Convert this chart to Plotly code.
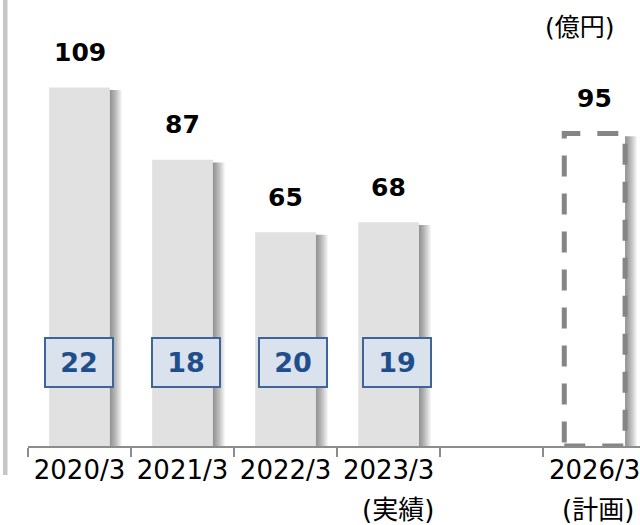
import plotly.graph_objects as go

# ---- data ----
categories = ["2020/3", "2021/3", "2022/3", "2023/3", " ", "2026/3"]
totals = [109, 87, 65, 68, None, 95]          # 億円
is_plan = [False, False, False, False, False, True]
boxed_values = [22, 18, 20, 19]               # boxed figures on the actual bars
sub_notes = {"2023/3": "(実績)", "2026/3": "(計画)"}
unit_label = "(億円)"

# ---- styling ----
FONT = "DejaVu Sans, Noto Sans CJK JP"
BAR_W = 0.59
BAR_FILL = "#e1e1e1"
DASH_COLOR = "#858585"
BOX_SHIFTS = [-1, 3, 7, 8]
NOTE_SHIFTS = {"2023/3": 9, "2026/3": 3}

actual = [None if p else v for v, p in zip(totals, is_plan)]
plan = [v if p else None for v, p in zip(totals, is_plan)]

fig = go.Figure()

# soft drop shadow on the right of each bar: stacked translucent layers
N_SHADOW = 10
for k in range(1, N_SHADOW + 1):
    fig.add_trace(go.Bar(
        x=categories,
        y=[None if v is None else v - 0.8 for v in totals],
        width=BAR_W, offset=-BAR_W / 2 + k * 0.0115,
        marker=dict(color="rgba(0,0,0,0.05)", line=dict(width=0)),
        hoverinfo="skip", showlegend=False,
    ))

# actual results
fig.add_trace(go.Bar(
    x=categories, y=actual, width=BAR_W, offset=-BAR_W / 2,
    marker=dict(color=BAR_FILL, line=dict(width=0)),
    showlegend=False,
))

# plan bar (white, outlined with a dashed frame below)
fig.add_trace(go.Bar(
    x=categories, y=plan, width=BAR_W, offset=-BAR_W / 2,
    marker=dict(color="white", line=dict(width=0)),
    showlegend=False,
))

shapes = []
for i, v in enumerate(plan):
    if v is None:
        continue
    shapes.append(dict(
        type="rect", xref="x", yref="y",
        x0=i - BAR_W / 2, x1=i + BAR_W / 2, y0=0, y1=v,
        line=dict(color=DASH_COLOR, width=5, dash="21px,17px"),
        fillcolor="rgba(0,0,0,0)", layer="above",
    ))

# vertical gray rule on the far left
shapes.append(dict(
    type="rect", xref="paper", yref="paper",
    x0=(3 - 28) / 612, x1=(7.5 - 28) / 612, y0=(446 - 475) / 446, y1=1,
    fillcolor="#c6c6c6", line=dict(width=0), layer="above",
))

annotations = []
# totals above the bars
for c, v in zip(categories, totals):
    if v is None:
        continue
    annotations.append(dict(
        x=c, y=v, xref="x", yref="y", text=f"<b>{v}</b>",
        showarrow=False, yshift=35, yanchor="middle", xanchor="center",
        font=dict(family=FONT, size=25, color="black"),
    ))

# boxed figures
for c, v, s in zip(categories, boxed_values, BOX_SHIFTS):
    annotations.append(dict(
        x=c, y=0.188, xref="x", yref="paper", text=f"<b>{v}</b>",
        showarrow=False, xshift=s, yanchor="middle", xanchor="center",
        font=dict(family=FONT, size=27, color="#1f4e8c"),
        bgcolor="#dae2ee", bordercolor="#3f6598", borderwidth=2,
        borderpad=0, width=66, height=47,
    ))

# second line of the category labels
for c, note in sub_notes.items():
    annotations.append(dict(
        x=c, y=0, xref="x", yref="paper", text=note,
        showarrow=False, yshift=-64, yanchor="middle", xanchor="center",
        xshift=NOTE_SHIFTS[c],
        font=dict(family=FONT, size=26, color="black"),
    ))

# unit
annotations.append(dict(
    x=(580 - 28) / 612, y=1, xref="paper", yref="paper", text=unit_label,
    showarrow=False, yshift=-27, yanchor="middle", xanchor="center",
    font=dict(family=FONT, size=25, color="black"),
))

fig.update_layout(
    width=640, height=525,
    margin=dict(l=28, r=0, t=0, b=79),
    paper_bgcolor="white", plot_bgcolor="white",
    barmode="overlay",
    shapes=shapes, annotations=annotations,
    xaxis=dict(
        type="category", categoryorder="array", categoryarray=categories,
        range=[-0.5, 5.44], tickson="boundaries",
        ticks="outside", ticklen=9, tickwidth=2, tickcolor="#8c8c8c",
        showline=True, linecolor="#8c8c8c", linewidth=2,
        showgrid=False, zeroline=False,
        tickfont=dict(family=FONT, size=26, color="black"),
    ),
    yaxis=dict(range=[0, 135.6], visible=False, fixedrange=True),
    font=dict(family=FONT),
)

fig.write_html("out.html")
